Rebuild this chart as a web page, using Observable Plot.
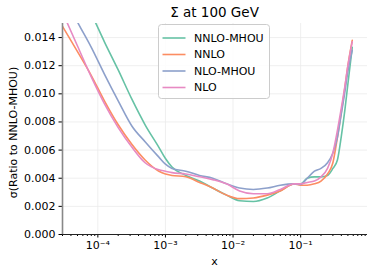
<!DOCTYPE html>
<html>
<head>
<meta charset="utf-8">
<script src="https://cdn.jsdelivr.net/npm/d3@7"></script>
<script src="https://cdn.jsdelivr.net/npm/@observablehq/plot@0.6"></script>
<style>
  html, body { margin: 0; padding: 0; background: white; }
  #chart { width: 374px; height: 275px; }
</style>
</head>
<body>
<div id="chart"></div>
<script>
// ---- data ----
const xs = [3.0e-5, 5.0e-5, 8.0e-5, 1.25e-4, 2.0e-4, 3.2e-4, 5.0e-4, 8.0e-4, 1.0e-3, 1.25e-3,
            2.0e-3, 3.2e-3, 5.0e-3, 8.0e-3, 0.0125, 0.02, 0.032, 0.05, 0.08, 0.1,
            0.125, 0.16, 0.2, 0.25, 0.3, 0.35, 0.4, 0.45, 0.5, 0.58];
const nnloMhou = [0.0199, 0.0176, 0.0157, 0.0137, 0.0117, 0.0096, 0.0078, 0.0062, 0.0054, 0.0048,
                  0.0042, 0.0038, 0.0033, 0.0028, 0.0024, 0.00235, 0.0026, 0.0031, 0.0036, 0.0036,
                  0.0040, 0.0041, 0.0041, 0.0042, 0.0047, 0.0053, 0.0070, 0.0088, 0.0107, 0.0133];
const nnlo = [0.0148, 0.0130, 0.0113, 0.0095, 0.0078, 0.0064, 0.0053, 0.0045, 0.0043, 0.0042,
              0.0041, 0.0037, 0.0033, 0.0028, 0.00255, 0.0026, 0.0028, 0.0031, 0.0036, 0.0035,
              0.0035, 0.0036, 0.0038, 0.0043, 0.0051, 0.0069, 0.0087, 0.0104, 0.0120, 0.0138];
const nloMhou = [0.0172, 0.0151, 0.0133, 0.0114, 0.0095, 0.0077, 0.0066, 0.0055, 0.0050, 0.0047,
                 0.0045, 0.0042, 0.0040, 0.0036, 0.0033, 0.0032, 0.0033, 0.0035, 0.0036, 0.00355,
                 0.0040, 0.0045, 0.0047, 0.0051, 0.0058, 0.0069, 0.0086, 0.0101, 0.0116, 0.0131];
const nlo = [0.0158, 0.0134, 0.0112, 0.0093, 0.0076, 0.0062, 0.0051, 0.0046, 0.0045, 0.0044,
             0.0043, 0.0041, 0.0039, 0.0036, 0.0031, 0.0029, 0.0029, 0.0032, 0.0036, 0.0036,
             0.0037, 0.0038, 0.0041, 0.0047, 0.0058, 0.0074, 0.0090, 0.0105, 0.0120, 0.0137];

const seriesNames = ["NNLO-MHOU", "NNLO", "NLO-MHOU", "NLO"];
const seriesValues = [nnloMhou, nnlo, nloMhou, nlo];
const seriesColors = ["#66c2a5", "#fc8d62", "#8da0cb", "#e78ac3"];

const yTicks = [0, 0.002, 0.004, 0.006, 0.008, 0.010, 0.012, 0.014];
const xMajor = [1e-4, 1e-3, 1e-2, 1e-1];
const xDomain = [3.0e-5, 0.975];
const yDomain = [0, 0.015];

const titleText = "Σ at 100 GeV";
const xLabel = "x";
const yLabel = "σ(Ratio to NNLO-MHOU)";

// ---- helpers ----
const xMinor = [];
for (let e = -5; e <= 0; e++) {
  for (let m = 2; m <= 9; m++) {
    const v = m * Math.pow(10, e);
    if (v >= xDomain[0] && v <= xDomain[1]) xMinor.push(v);
  }
}
const sup = {"-": "⁻", "0": "⁰", "1": "¹", "2": "²", "3": "³", "4": "⁴", "5": "⁵", "6": "⁶", "7": "⁷", "8": "⁸", "9": "⁹"};
const fmtPow = d => "10" + String(Math.round(Math.log10(d))).split("").map(c => sup[c]).join("");

const tables = seriesNames.map((name, i) => xs.map((x, j) => ({x, y: seriesValues[i][j], series: name})));

const W = 374, H = 275;
const mL = 62, mR = 7, mT = 23, mB = 41;

const plot = Plot.plot({
  width: W, height: H,
  marginLeft: mL, marginRight: mR, marginTop: mT, marginBottom: mB,
  style: {fontFamily: "'DejaVu Sans', sans-serif", fontSize: "11px", color: "#000", background: "white", overflow: "visible"},
  x: {type: "log", domain: xDomain},
  y: {domain: yDomain},
  marks: [
    Plot.gridY(yTicks, {stroke: "#ebebeb", strokeOpacity: 1, strokeWidth: 0.8}),
    Plot.gridX(xMajor, {stroke: "#ebebeb", strokeOpacity: 1, strokeWidth: 0.8}),
    ...tables.map((t, i) => Plot.line(t, {x: "x", y: "y", stroke: seriesColors[i], strokeWidth: 1.6, curve: "monotone-x", clip: true})),
    Plot.axisY(yTicks, {tickFormat: d => d.toFixed(3), tickSize: 3.5, tickPadding: 3.5, label: null, fontSize: 11}),
    Plot.axisX(xMinor, {tickFormat: () => "", tickSize: 2, label: null}),
    Plot.axisX(xMajor, {tickFormat: fmtPow, tickSize: 3.5, tickPadding: 3, label: null, fontSize: 11}),
    Plot.ruleY([yDomain[0]], {stroke: "#222", strokeWidth: 1.2}),
    Plot.ruleX([xDomain[0]], {stroke: "#888", strokeWidth: 1.6})
  ]
});

document.getElementById("chart").appendChild(plot);

// ---- title, axis labels, legend ----
const svg = d3.select(plot);
const cx = mL + (W - mL - mR) / 2;
svg.append("text").attr("x", cx).attr("y", 17).attr("text-anchor", "middle")
  .attr("font-size", 13.5).attr("fill", "#000").text(titleText);
svg.append("text").attr("x", cx).attr("y", 265).attr("text-anchor", "middle")
  .attr("font-size", 11).attr("fill", "#000").text(xLabel);
svg.append("text").attr("transform", `translate(16.5,${(mT + H - mB) / 2 + 4}) rotate(-90)`)
  .attr("text-anchor", "middle").attr("font-size", 11).attr("fill", "#000").text(yLabel);

const lg = svg.append("g").attr("transform", "translate(158.5,24.5)");
lg.append("rect").attr("x", 0).attr("y", 0).attr("width", 111).attr("height", 74).attr("rx", 3).attr("ry", 3)
  .style("fill", "white").style("fill-opacity", 0.85).style("stroke", "#cccccc").style("stroke-width", 1);
seriesNames.forEach((name, i) => {
  const yy = 13.5 + i * 16.5;
  lg.append("line").attr("x1", 4).attr("x2", 27).attr("y1", yy).attr("y2", yy)
    .style("stroke", seriesColors[i]).style("stroke-width", 1.6);
  lg.append("text").attr("x", 35.5).attr("y", yy).attr("dy", "0.36em")
    .attr("text-anchor", "start").style("text-anchor", "start")
    .attr("font-size", 11).attr("fill", "#000").text(name);
});
</script>
</body>
</html>
